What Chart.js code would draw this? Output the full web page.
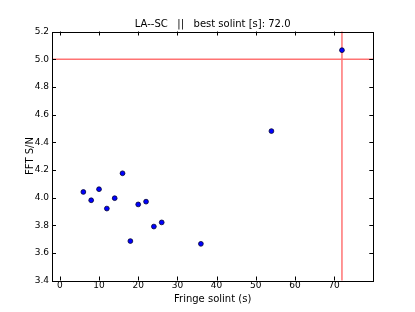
<!DOCTYPE html>
<html>
<head>
<meta charset="utf-8">
<script src="https://cdn.jsdelivr.net/npm/chart.js@4/dist/chart.umd.min.js"></script>
<style>
  html, body { margin: 0; padding: 0; background: #fff; }
  #wrap { width: 415px; height: 312px; }
</style>
</head>
<body>
<div id="wrap"><canvas id="chartSolint" width="415" height="312"></canvas></div>
<script>
// ── data ──
const solint = [6, 8, 10, 12, 14, 16, 18, 20, 22, 24, 26, 36, 54, 72];
const snr    = [4.04, 3.98, 4.06, 3.92, 3.995, 4.175, 3.685, 3.95, 3.97, 3.79, 3.82, 3.665, 4.48, 5.065];
const xTicks = [0, 10, 20, 30, 40, 50, 60, 70];
const yTicks = [3.4, 3.6, 3.8, 4.0, 4.2, 4.4, 4.6, 4.8, 5.0, 5.2];
const bestSolint = 72;
const snrThreshold = 5.0;
const station = 'LA--SC';

const FONT = "'DejaVu Sans', sans-serif";

// red guide lines + inward ticks + frame, matplotlib style
const mplFrame = {
  id: 'mplFrame',
  beforeDatasetsDraw(chart) {
    const { ctx, chartArea: a, scales: { x, y } } = chart;
    ctx.save();
    ctx.strokeStyle = 'rgba(255,0,0,0.55)';
    ctx.lineWidth = 1.5;
    const yy = y.getPixelForValue(snrThreshold);
    const xx = x.getPixelForValue(bestSolint);
    ctx.beginPath();
    ctx.moveTo(a.left, yy); ctx.lineTo(a.right, yy);
    ctx.moveTo(xx, a.top); ctx.lineTo(xx, a.bottom);
    ctx.stroke();
    ctx.restore();
  },
  afterDraw(chart) {
    const { ctx, chartArea: a, scales: { x, y } } = chart;
    ctx.save();
    ctx.strokeStyle = '#000';
    ctx.lineWidth = 1;
    ctx.beginPath();
    xTicks.forEach(v => {
      const p = Math.round(x.getPixelForValue(v)) + 0.5;
      ctx.moveTo(p, a.bottom); ctx.lineTo(p, a.bottom - 4);
      ctx.moveTo(p, a.top); ctx.lineTo(p, a.top + 4);
    });
    yTicks.forEach(v => {
      const p = Math.round(y.getPixelForValue(v)) + 0.5;
      ctx.moveTo(a.left, p); ctx.lineTo(a.left + 4, p);
      ctx.moveTo(a.right, p); ctx.lineTo(a.right - 4, p);
    });
    ctx.stroke();
    ctx.strokeRect(Math.round(a.left) + 0.5, Math.round(a.top) + 0.5,
      Math.round(a.right - a.left), Math.round(a.bottom - a.top));
    ctx.restore();
  }
};

new Chart(document.getElementById('chartSolint'), {
  type: 'scatter',
  data: {
    datasets: [{
      label: 'S/N',
      data: solint.map((s, i) => ({ x: s, y: snr[i] })),
      backgroundColor: '#0000ff',
      borderColor: '#000033',
      borderWidth: 0.8,
      pointRadius: 2.4,
    }],
  },
  options: {
    responsive: false,
    animation: false,
    layout: { padding: { top: 0, right: 41.7, bottom: 0, left: 0 } },
    plugins: {
      legend: { display: false },
      tooltip: { enabled: false },
      title: {
        display: true,
        fullSize: false,
        text: station + '   ||   best solint [s]: ' + bestSolint.toFixed(1),
        color: '#000',
        font: { family: FONT, size: 10, weight: 'normal', lineHeight: 1.2 },
        padding: { top: 18, bottom: 1.5 },
      },
    },
    scales: {
      x: {
        type: 'linear',
        min: -2,
        max: 80,
        afterBuildTicks: s => { s.ticks = xTicks.map(v => ({ value: v })); },
        afterFit: s => { s.height = 31.5; },
        grid: { display: false, drawTicks: false },
        border: { display: false },
        ticks: { color: '#000', padding: 0, maxRotation: 0, font: { family: FONT, size: 9 } },
        title: {
          display: true,
          text: 'Fringe solint (s)',
          color: '#000',
          font: { family: FONT, size: 10 },
          padding: { top: 0, bottom: 7 },
        },
      },
      y: {
        type: 'linear',
        min: 3.4,
        max: 5.2,
        afterBuildTicks: s => { s.ticks = yTicks.map(v => ({ value: v })); },
        afterFit: s => { s.width = 52; },
        grid: { display: false, drawTicks: false },
        border: { display: false },
        ticks: { color: '#000', padding: 3, font: { family: FONT, size: 9 }, callback: v => Number(v).toFixed(1) },
        title: {
          display: true,
          text: 'FFT S/N',
          color: '#000',
          font: { family: FONT, size: 10 },
          padding: { top: 24, bottom: 0 },
        },
      },
    },
  },
  plugins: [mplFrame],
});
</script>
</body>
</html>
